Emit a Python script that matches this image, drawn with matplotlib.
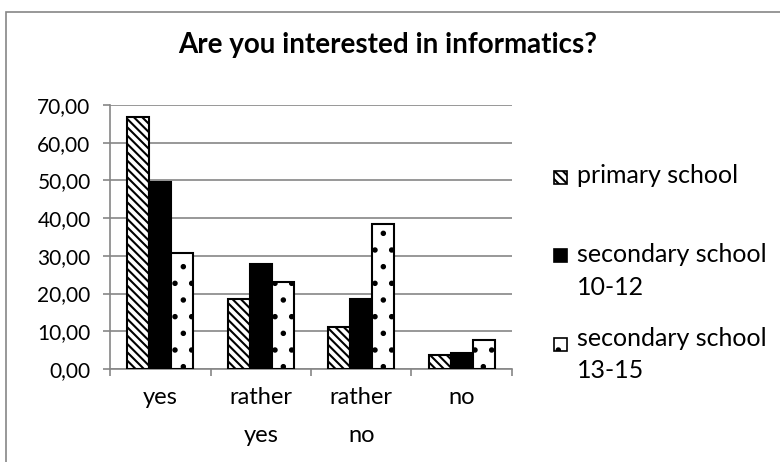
import matplotlib.pyplot as plt
import numpy as np
from matplotlib.patches import Rectangle
from matplotlib.ticker import FuncFormatter

categories = ['yes', 'rather\nyes', 'rather\nno', 'no']
series_names = ['primary school', 'secondary school\n10-12', 'secondary school\n13-15']
primary = [66.7, 18.5, 11.1, 3.7]
secondary_10_12 = [49.5, 27.8, 18.5, 4.2]
secondary_13_15 = [30.8, 23.1, 38.5, 7.7]

plt.rcParams['font.family'] = ['Lato', 'DejaVu Sans']
plt.rcParams['hatch.linewidth'] = 1.5

W, H = 780, 462
fig = plt.figure(figsize=(7.8, 4.62), dpi=100)
ax = fig.add_axes([110/W, 1-369/H, 402/W, 264/H])

# chart frame like the spreadsheet border
fig.patches.append(Rectangle((6/W, -0.1), 1.2, 1 - 12/H + 0.1, transform=fig.transFigure,
                             fill=False, edgecolor='#868686', lw=1.2))

x = np.arange(len(categories))
w = 0.22
styles = [dict(color='white', hatch='\\\\\\\\'),
          dict(color='black', hatch=None),
          dict(color='white', hatch='.')]
for i, (vals, st) in enumerate(zip([primary, secondary_10_12, secondary_13_15], styles)):
    ax.bar(x + (i - 1) * w, vals, w, facecolor=st['color'], edgecolor='black',
           hatch=st['hatch'], lw=1.5, label=series_names[i], zorder=3)

ax.set_xlim(-0.5, 3.5)
ax.set_ylim(0, 70)
ax.set_yticks(np.arange(0, 71, 10))
ax.yaxis.set_major_formatter(FuncFormatter(lambda v, p: f'{v:.2f}'.replace('.', ',')))
ax.grid(axis='y', color='#868686', lw=1.2, zorder=0)
ax.set_xticks(x)
ax.set_xticklabels(categories, linespacing=2.0)
ax.set_xticks(np.arange(-0.5, 4, 1), minor=True)
ax.tick_params(axis='x', which='major', length=0, labelsize=17, pad=13)
ax.tick_params(axis='x', which='minor', length=5, color='#868686', width=1.2)
ax.tick_params(axis='y', length=5, color='#868686', width=1.2, labelsize=15, pad=9)
for s in ['top', 'right']:
    ax.spines[s].set_visible(False)
for s in ['left', 'bottom']:
    ax.spines[s].set_color('#868686')
    ax.spines[s].set_linewidth(1.2)

fig.text(0.497, 1 - 53/H, 'Are you interested in informatics?', ha='center', va='baseline',
         fontsize=20, fontweight='bold')

# legend drawn by hand so each handle sits beside the first line of its label
handles = ax.containers
handle_centers = [177, 255, 344]
line_baselines = [[183], [262, 295], [346, 378]]
for bc, name, yc, bases in zip(handles, series_names, handle_centers, line_baselines):
    p = bc.patches[0]
    fig.patches.append(Rectangle((554/W, 1 - (yc + 6.5)/H), 13/W, 13/H, transform=fig.transFigure,
                                 facecolor=p.get_facecolor(), edgecolor='black',
                                 hatch=p.get_hatch(), lw=1.2))
    for line, yb in zip(name.split('\n'), bases):
        fig.text(577/W, 1 - yb/H, line, ha='left', va='baseline', fontsize=18)

fig.savefig('out.png', dpi=100)
